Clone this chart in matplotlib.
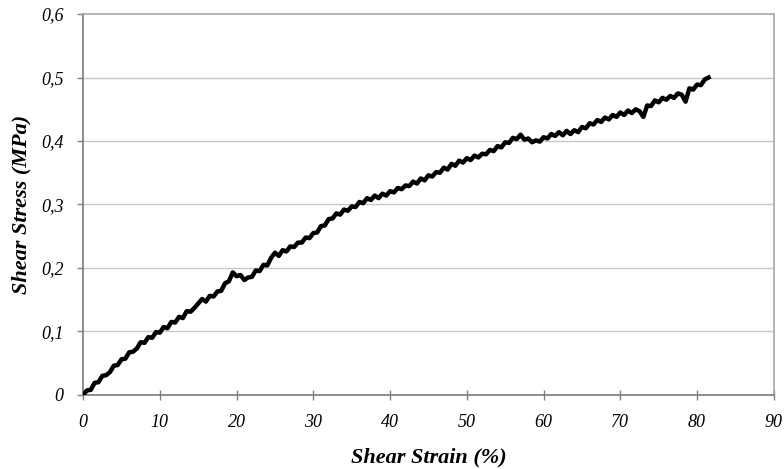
import numpy as np
import matplotlib
matplotlib.use('Agg')
import matplotlib.pyplot as plt

# Shear strain (%) sampled every 0.5 %
strain = [
    0.0, 0.5, 1.0, 1.5, 2.0, 2.5, 3.0, 3.5, 4.0, 4.5,
    5.0, 5.5, 6.0, 6.5, 7.0, 7.5, 8.0, 8.5, 9.0, 9.5,
    10.0, 10.5, 11.0, 11.5, 12.0, 12.5, 13.0, 13.5, 14.0, 14.5,
    15.0, 15.5, 16.0, 16.5, 17.0, 17.5, 18.0, 18.5, 19.0, 19.5,
    20.0, 20.5, 21.0, 21.5, 22.0, 22.5, 23.0, 23.5, 24.0, 24.5,
    25.0, 25.5, 26.0, 26.5, 27.0, 27.5, 28.0, 28.5, 29.0, 29.5,
    30.0, 30.5, 31.0, 31.5, 32.0, 32.5, 33.0, 33.5, 34.0, 34.5,
    35.0, 35.5, 36.0, 36.5, 37.0, 37.5, 38.0, 38.5, 39.0, 39.5,
    40.0, 40.5, 41.0, 41.5, 42.0, 42.5, 43.0, 43.5, 44.0, 44.5,
    45.0, 45.5, 46.0, 46.5, 47.0, 47.5, 48.0, 48.5, 49.0, 49.5,
    50.0, 50.5, 51.0, 51.5, 52.0, 52.5, 53.0, 53.5, 54.0, 54.5,
    55.0, 55.5, 56.0, 56.5, 57.0, 57.5, 58.0, 58.5, 59.0, 59.5,
    60.0, 60.5, 61.0, 61.5, 62.0, 62.5, 63.0, 63.5, 64.0, 64.5,
    65.0, 65.5, 66.0, 66.5, 67.0, 67.5, 68.0, 68.5, 69.0, 69.5,
    70.0, 70.5, 71.0, 71.5, 72.0, 72.5, 73.0, 73.5, 74.0, 74.5,
    75.0, 75.5, 76.0, 76.5, 77.0, 77.5, 78.0, 78.5, 79.0, 79.5,
    80.0, 80.5, 81.0, 81.5,
]

# Shear stress (MPa)
stress = [
    0.000, 0.007, 0.008, 0.019, 0.020, 0.030, 0.031, 0.036, 0.046, 0.047,
    0.056, 0.057, 0.067, 0.068, 0.073, 0.083, 0.082, 0.091, 0.090, 0.099,
    0.098, 0.107, 0.105, 0.115, 0.114, 0.123, 0.121, 0.132, 0.131, 0.137,
    0.144, 0.151, 0.147, 0.156, 0.155, 0.163, 0.164, 0.176, 0.179, 0.193,
    0.187, 0.189, 0.181, 0.185, 0.186, 0.196, 0.195, 0.205, 0.204, 0.216,
    0.224, 0.219, 0.228, 0.226, 0.234, 0.233, 0.240, 0.240, 0.248, 0.247,
    0.255, 0.256, 0.266, 0.267, 0.277, 0.278, 0.286, 0.284, 0.292, 0.290,
    0.297, 0.296, 0.304, 0.302, 0.310, 0.307, 0.314, 0.310, 0.317, 0.314,
    0.321, 0.319, 0.326, 0.324, 0.330, 0.329, 0.336, 0.333, 0.341, 0.338,
    0.346, 0.344, 0.351, 0.350, 0.358, 0.355, 0.364, 0.361, 0.369, 0.366,
    0.373, 0.370, 0.377, 0.374, 0.380, 0.379, 0.386, 0.384, 0.392, 0.390,
    0.398, 0.397, 0.405, 0.403, 0.410, 0.402, 0.404, 0.398, 0.401, 0.399,
    0.406, 0.404, 0.411, 0.408, 0.414, 0.409, 0.416, 0.411, 0.417, 0.414,
    0.422, 0.420, 0.428, 0.426, 0.433, 0.430, 0.437, 0.434, 0.441, 0.438,
    0.445, 0.441, 0.448, 0.444, 0.450, 0.447, 0.438, 0.456, 0.455, 0.464,
    0.461, 0.468, 0.465, 0.471, 0.468, 0.475, 0.473, 0.462, 0.483, 0.481,
    0.489, 0.488, 0.497, 0.500,
]

x_ticks = [0, 10, 20, 30, 40, 50, 60, 70, 80, 90]
y_ticks = [0, 0.1, 0.2, 0.3, 0.4, 0.5, 0.6]
y_tick_labels = ['0', '0,1', '0,2', '0,3', '0,4', '0,5', '0,6']

plt.rcParams['font.family'] = 'Liberation Serif'

fig = plt.figure(figsize=(7.84, 4.69), dpi=100)
ax = fig.add_axes([0.106, 0.158, 0.881, 0.812])

for y in y_ticks[1:-1]:
    ax.axhline(y, color='#c8c8c8', linewidth=1.0, zorder=0)

ax.plot(strain, stress, color='black', linewidth=3.2, zorder=3)

ax.set_xlim(0, 90)
ax.set_ylim(0, 0.6)
ax.set_xticks(x_ticks)
ax.set_xticklabels([str(v) for v in x_ticks], style='italic', fontsize=13)
ax.set_yticks(y_ticks)
ax.set_yticklabels(y_tick_labels, style='italic', fontsize=13)

ax.tick_params(axis='x', direction='inout', length=7, width=1, color='#808080', pad=10)
ax.tick_params(axis='y', direction='out', length=4, width=1, color='#808080', pad=10)

for side in ['left', 'bottom']:
    ax.spines[side].set_color('#7a7a7a')
    ax.spines[side].set_linewidth(1.2)
for side in ['top', 'right']:
    ax.spines[side].set_color('#a8a8a8')
    ax.spines[side].set_linewidth(1.2)

ax.set_xlabel('Shear Strain (%)', fontsize=16, fontweight='bold', style='italic', labelpad=12)
ax.set_ylabel('Shear Stress (MPa)', fontsize=16, fontweight='bold', style='italic', labelpad=7)

fig.savefig('out.png', dpi=100)
